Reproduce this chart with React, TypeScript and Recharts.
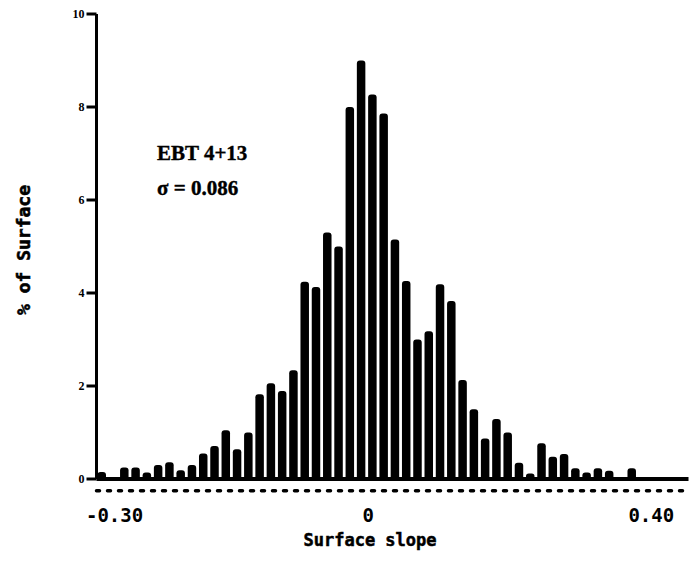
import { Bar, BarChart, ReferenceLine, XAxis, YAxis } from "recharts";

// % of surface in each slope bin, left to right (bins of equal width)
const surfacePct = [
  0.15, 0, 0.25, 0.25, 0.14, 0.3, 0.36, 0.19, 0.3, 0.55, 0.71, 1.05, 0.64, 1.0,
  1.82, 2.06, 1.89, 2.34, 4.24, 4.13, 5.3, 5.0, 8.0, 9.0, 8.27, 7.86, 5.15, 4.26,
  3.0, 3.18, 4.19, 3.83, 2.13, 1.5, 0.87, 1.29, 1.0, 0.35, 0.12, 0.77, 0.48, 0.54,
  0.23, 0.14, 0.23, 0.18, 0, 0.23, 0, 0, 0, 0,
];

// where the slope labels sit, in bin units (the original axis is not linear)
const xTickBins = [1.1, 23.6, 48.7];
const xTickLabels = ["-0.30", "0", "0.40"];

const yMajorTicks = [0, 2, 4, 6, 8, 10];
const yMinorTicks = [1, 3, 5, 7, 9];

const data = surfacePct.map((pct, i) => ({ bin: i, pct }));

const mono = "'DejaVu Sans Mono', monospace";
const serif = "'Liberation Serif', 'Times New Roman', serif";

export default function App() {
  return (
    <div style={{ position: "absolute", left: 0, top: 0, background: "#fff" }}>
      <BarChart
        width={690}
        height={562}
        data={data}
        margin={{ top: 14, right: 1.5, bottom: 0, left: 0 }}
        barCategoryGap={0}
      >
        <XAxis
          dataKey="bin"
          type="number"
          domain={[-0.5, 52]}
          ticks={xTickBins}
          tickFormatter={(v) => xTickLabels[xTickBins.indexOf(v)] ?? ""}
          interval={0}
          height={83}
          tickLine={false}
          tickSize={6}
          tickMargin={24}
          axisLine={{ stroke: "#000", strokeWidth: 4 }}
          tick={{ fill: "#000", fontFamily: mono, fontWeight: "bold", fontSize: 19 }}
        />
        {/* short unlabelled marks at the odd values; declared first so it sits next to the plot */}
        <YAxis
          yAxisId="minor"
          type="number"
          domain={[0, 10]}
          ticks={yMinorTicks}
          interval={0}
          width={0}
          tickSize={5}
          tick={false}
          tickLine={{ stroke: "#000", strokeWidth: 3 }}
          axisLine={false}
        />
        <YAxis
          type="number"
          domain={[0, 10]}
          ticks={yMajorTicks}
          interval={0}
          width={96.5}
          tickSize={10}
          tickMargin={2}
          tickLine={{ stroke: "#000", strokeWidth: 3 }}
          axisLine={{ stroke: "#000", strokeWidth: 3 }}
          tick={{ fill: "#000", fontFamily: serif, fontWeight: "bold", fontSize: 12 }}
        />
        <ReferenceLine
          y={-0.25}
          ifOverflow="visible"
          stroke="#000"
          strokeWidth={3.5}
          strokeDasharray="3 8"
          strokeLinecap="round"
        />
        <Bar
          dataKey="pct"
          fill="#000"
          barSize={8.5}
          radius={[3, 3, 0, 0]}
          isAnimationActive={false}
        />
        <text
          x={370}
          y={546}
          textAnchor="middle"
          fontFamily={mono}
          fontWeight="bold"
          fontSize={17}
          fill="#000"
          stroke="#000"
          strokeWidth={0.5}
        >
          Surface slope
        </text>
        <text
          x={23}
          y={250}
          transform="rotate(-90, 23, 250)"
          textAnchor="middle"
          dominantBaseline="central"
          fontFamily={mono}
          fontWeight="bold"
          fontSize={18}
          fill="#000"
          stroke="#000"
          strokeWidth={0.6}
        >
          % of Surface
        </text>
        <text x={157} y={160} fontFamily={serif} fontWeight="bold" fontSize={21} fill="#000" stroke="#000" strokeWidth={0.4}>
          EBT 4+13
        </text>
        <text x={157} y={195} fontFamily={serif} fontWeight="bold" fontSize={21} fill="#000" stroke="#000" strokeWidth={0.4}>
          σ = 0.086
        </text>
      </BarChart>
    </div>
  );
}
